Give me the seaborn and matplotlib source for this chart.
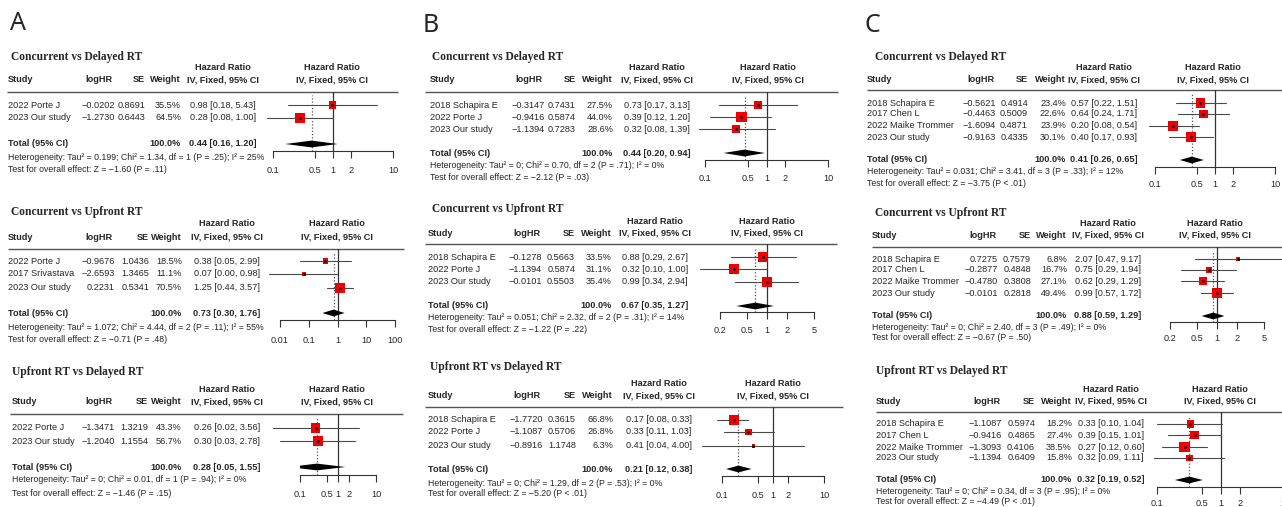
import matplotlib
matplotlib.use("Agg")
import matplotlib.pyplot as plt
from matplotlib.ticker import FixedLocator, FixedFormatter, NullLocator
import seaborn as sns

sns.set_theme(style="white")
plt.rcParams["font.family"] = ["Liberation Sans", "DejaVu Sans"]

W, H = 1282, 507

# ── Data ────────────────────────────────────────────────────────────────────
TITLES = ["Concurrent vs Delayed RT", "Concurrent vs Upfront RT", "Upfront RT vs Delayed RT"]

# A – row 1
A1_study = ["2022 Porte J", "2023 Our study"]
A1_loghr = [-0.0202, -1.2730]
A1_se = [0.8691, 0.6443]
A1_weight = [35.5, 64.5]
A1_hr = [0.98, 0.28]
A1_lo = [0.18, 0.08]
A1_hi = [5.43, 1.00]
A1_total = [0.44, 0.16, 1.20]
A1_het = "Heterogeneity: Tau² = 0.199; Chi² = 1.34, df = 1 (P = .25); I² = 25%"
A1_test = "Test for overall effect: Z = −1.60 (P = .11)"
A1_ticks = [0.1, 0.5, 1, 2, 10]

# A – row 2
A2_study = ["2022 Porte J", "2017 Srivastava", "2023 Our study"]
A2_loghr = [-0.9676, -2.6593, 0.2231]
A2_se = [1.0436, 1.3465, 0.5341]
A2_weight = [18.5, 11.1, 70.5]
A2_hr = [0.38, 0.07, 1.25]
A2_lo = [0.05, 0.004, 0.44]
A2_hi = [2.99, 0.98, 3.57]
A2_total = [0.73, 0.30, 1.76]
A2_het = "Heterogeneity: Tau² = 1.072; Chi² = 4.44, df = 2 (P = .11); I² = 55%"
A2_test = "Test for overall effect: Z = −0.71 (P = .48)"
A2_ticks = [0.01, 0.1, 1, 10, 100]

# A – row 3
A3_study = ["2022 Porte J", "2023 Our study"]
A3_loghr = [-1.3471, -1.2040]
A3_se = [1.3219, 1.1554]
A3_weight = [43.3, 56.7]
A3_hr = [0.26, 0.30]
A3_lo = [0.02, 0.03]
A3_hi = [3.56, 2.78]
A3_total = [0.28, 0.05, 1.55]
A3_het = "Heterogeneity: Tau² = 0; Chi² = 0.01, df = 1 (P = .94); I² = 0%"
A3_test = "Test for overall effect: Z = −1.46 (P = .15)"
A3_ticks = [0.1, 0.5, 1, 2, 10]

# B – row 1
B1_study = ["2018 Schapira E", "2022 Porte J", "2023 Our study"]
B1_loghr = [-0.3147, -0.9416, -1.1394]
B1_se = [0.7431, 0.5874, 0.7283]
B1_weight = [27.5, 44.0, 28.6]
B1_hr = [0.73, 0.39, 0.32]
B1_lo = [0.17, 0.12, 0.08]
B1_hi = [3.13, 1.20, 1.39]
B1_total = [0.44, 0.20, 0.94]
B1_het = "Heterogeneity: Tau² = 0; Chi² = 0.70, df = 2 (P = .71); I² = 0%"
B1_test = "Test for overall effect: Z = −2.12 (P = .03)"
B1_ticks = [0.1, 0.5, 1, 2, 10]

# B – row 2
B2_study = ["2018 Schapira E", "2022 Porte J", "2023 Our study"]
B2_loghr = [-0.1278, -1.1394, -0.0101]
B2_se = [0.5663, 0.5874, 0.5503]
B2_weight = [33.5, 31.1, 35.4]
B2_hr = [0.88, 0.32, 0.99]
B2_lo = [0.29, 0.10, 0.34]
B2_hi = [2.67, 1.00, 2.94]
B2_total = [0.67, 0.35, 1.27]
B2_het = "Heterogeneity: Tau² = 0.051; Chi² = 2.32, df = 2 (P = .31); I² = 14%"
B2_test = "Test for overall effect: Z = −1.22 (P = .22)"
B2_ticks = [0.2, 0.5, 1, 2, 5]

# B – row 3
B3_study = ["2018 Schapira E", "2022 Porte J", "2023 Our study"]
B3_loghr = [-1.7720, -1.1087, -0.8916]
B3_se = [0.3615, 0.5706, 1.1748]
B3_weight = [66.8, 26.8, 6.3]
B3_hr = [0.17, 0.33, 0.41]
B3_lo = [0.08, 0.11, 0.04]
B3_hi = [0.33, 1.03, 4.00]
B3_total = [0.21, 0.12, 0.38]
B3_het = "Heterogeneity: Tau² = 0; Chi² = 1.29, df = 2 (P = .53); I² = 0%"
B3_test = "Test for overall effect: Z = −5.20 (P < .01)"
B3_ticks = [0.1, 0.5, 1, 2, 10]

# C – row 1
C1_study = ["2018 Schapira E", "2017 Chen L", "2022 Maike Trommer", "2023 Our study"]
C1_loghr = [-0.5621, -0.4463, -1.6094, -0.9163]
C1_se = [0.4914, 0.5009, 0.4871, 0.4335]
C1_weight = [23.4, 22.6, 23.9, 30.1]
C1_hr = [0.57, 0.64, 0.20, 0.40]
C1_lo = [0.22, 0.24, 0.08, 0.17]
C1_hi = [1.51, 1.71, 0.54, 0.93]
C1_total = [0.41, 0.26, 0.65]
C1_het = "Heterogeneity: Tau² = 0.031; Chi² = 3.41, df = 3 (P = .33); I² = 12%"
C1_test = "Test for overall effect: Z = −3.75 (P < .01)"
C1_ticks = [0.1, 0.5, 1, 2, 10]

# C – row 2
C2_study = ["2018 Schapira E", "2017 Chen L", "2022 Maike Trommer", "2023 Our study"]
C2_loghr = [0.7275, -0.2877, -0.4780, -0.0101]
C2_se = [0.7579, 0.4848, 0.3808, 0.2818]
C2_weight = [6.8, 16.7, 27.1, 49.4]
C2_hr = [2.07, 0.75, 0.62, 0.99]
C2_lo = [0.47, 0.29, 0.29, 0.57]
C2_hi = [9.17, 1.94, 1.29, 1.72]
C2_total = [0.88, 0.59, 1.29]
C2_het = "Heterogeneity: Tau² = 0; Chi² = 2.40, df = 3 (P = .49); I² = 0%"
C2_test = "Test for overall effect: Z = −0.67 (P = .50)"
C2_ticks = [0.2, 0.5, 1, 2, 5]

# C – row 3
C3_study = ["2018 Schapira E", "2017 Chen L", "2022 Maike Trommer", "2023 Our study"]
C3_loghr = [-1.1087, -0.9416, -1.3093, -1.1394]
C3_se = [0.5974, 0.4865, 0.4106, 0.6409]
C3_weight = [18.2, 27.4, 38.5, 15.8]
C3_hr = [0.33, 0.39, 0.27, 0.32]
C3_lo = [0.10, 0.15, 0.12, 0.09]
C3_hi = [1.04, 1.01, 0.60, 1.11]
C3_total = [0.32, 0.19, 0.52]
C3_het = "Heterogeneity: Tau² = 0; Chi² = 0.34, df = 3 (P = .95); I² = 0%"
C3_test = "Test for overall effect: Z = −4.49 (P < .01)"
C3_ticks = [0.1, 0.5, 1, 2, 10]

# ── Layout in pixels (positions only) ───────────────────────────────────────
LAYOUT = {
    "A1": dict(tx=11, xs=8, cl=115, cs=145, cw=181, ce=223, cf=332, yt=57, yh=68, yc=80, yl=92,
               lx=(7, 398), rows=[105, 118], ytot=144, yhet=157, ytest=169, ax=(273, 393), yax=151),
    "A2": dict(tx=11, xs=8, cl=115, cs=149, cw=182, ce=227, cf=337, yt=212, yh=223, yc=237, yl=249,
               lx=(8, 404), rows=[261, 274, 288], ytot=313, yhet=327, ytest=339, ax=(280, 395), yax=320),
    "A3": dict(tx=12, xs=12, cl=115, cs=148, cw=182, ce=227, cf=337, yt=372, yh=390, yc=402, yl=414,
               lx=(10, 403), rows=[428, 441], ytot=467, yhet=480, ytest=493, ax=(300, 376), yax=475),
    "B1": dict(tx=432, xs=430, cl=545, cs=576, cw=613, ce=657, cf=768, yt=57, yh=68, yc=80, yl=92,
               lx=(425, 838), rows=[105, 117, 129], ytot=153, yhet=166, ytest=177, ax=(705, 828), yax=160),
    "B2": dict(tx=432, xs=428, cl=542, cs=575, cw=612, ce=655, cf=767, yt=209, yh=221, yc=233, yl=244,
               lx=(425, 837), rows=[257, 269, 282], ytot=306, yhet=318, ytest=329, ax=(720, 814), yax=312),
    "B3": dict(tx=430, xs=428, cl=543, cs=576, cw=613, ce=659, cf=773, yt=367, yh=383, yc=396, yl=407,
               lx=(425, 843), rows=[420, 432, 446], ytot=469, yhet=483, ytest=494, ax=(722, 824), yax=476),
    "C1": dict(tx=875, xs=867, cl=996, cs=1028, cw=1066, ce=1104, cf=1213, yt=57, yh=68, yc=80, yl=90,
               lx=(867, 1290), rows=[103, 114, 126, 137], ytot=160, yhet=172, ytest=183, ax=(1155, 1275), yax=167),
    "C2": dict(tx=875, xs=872, cl=998, cs=1031, cw=1067, ce=1108, cf=1215, yt=213, yh=223, yc=235, yl=247,
               lx=(872, 1290), rows=[259, 270, 281, 293], ytot=316, yhet=327, ytest=337, ax=(1170, 1264), yax=322),
    "C3": dict(tx=876, xs=876, cl=1002, cs=1035, cw=1072, ce=1111, cf=1220, yt=371, yh=390, yc=401, yl=412,
               lx=(876, 1290), rows=[424, 435, 447, 458], ytot=480, yhet=492, ytest=502, ax=(1157, 1285), yax=487),
}
LETTERS = {"A": (18, 24), "B": (431, 25), "C": (872, 25)}

FS = 6.6        # body text
FS_NOTE = 6.3   # heterogeneity lines
FS_TITLE = 8.3
LINE_COL = "#4a4a4a"
SQ_MAX = 55     # marker area (pt^2) for the heaviest study


def fmt_num(v, nd=4):
    return f"{v:.{nd}f}".replace("-", "−")


def fmt_tick(t):
    return f"{t:g}"


def draw_panel(fig, bg, key, title, study, loghr, se, weight, hr, lo, hi, total, het, test, ticks):
    L = LAYOUT[key]
    bg.text(L["tx"], L["yt"], title, fontfamily=["Liberation Serif", "DejaVu Serif"],
            fontweight="bold", fontsize=FS_TITLE, ha="left", va="center")

    # column headers
    bold = dict(fontsize=FS, fontweight="bold", va="center")
    bg.text(L["xs"], L["yc"], "Study", ha="left", **bold)
    bg.text(L["cl"] - 2, L["yc"], "logHR", ha="right", **bold)
    bg.text(L["cs"], L["yc"], "SE", ha="right", **bold)
    bg.text(L["cw"], L["yc"], "Weight", ha="right", **bold)
    for cx in (L["ce"], L["cf"]):
        bg.text(cx, L["yh"], "Hazard Ratio", ha="center", **bold)
        bg.text(cx, L["yc"], "IV, Fixed, 95% CI", ha="center", **bold)
    bg.plot(L["lx"], [L["yl"], L["yl"]], color="#555555", lw=1.0, solid_capstyle="butt")

    # study rows
    reg = dict(fontsize=FS, va="center")
    for y, s, lg, e, w, h, l, u in zip(L["rows"], study, loghr, se, weight, hr, lo, hi):
        bg.text(L["xs"], y, s, ha="left", **reg)
        bg.text(L["cl"], y, fmt_num(lg), ha="right", **reg)
        bg.text(L["cs"], y, fmt_num(e), ha="right", **reg)
        bg.text(L["cw"], y, f"{w:.1f}%", ha="right", **reg)
        bg.text(L["ce"], y, f"{h:.2f} [{l:.2f}, {u:.2f}]", ha="center", **reg)

    # pooled row
    th, tl, tu = total
    bg.text(L["xs"], L["ytot"], "Total (95% CI)", ha="left", **bold)
    bg.text(L["cw"], L["ytot"], "100.0%", ha="right", **bold)
    bg.text(L["ce"], L["ytot"], f"{th:.2f} [{tl:.2f}, {tu:.2f}]", ha="center", **bold)
    bg.text(L["xs"], L["yhet"], het, ha="left", va="center", fontsize=FS_NOTE)
    bg.text(L["xs"], L["ytest"], test, ha="left", va="center", fontsize=FS_NOTE)

    # forest
    x0, x1 = L["ax"]
    ax = fig.add_axes([x0 / W, 1 - L["yax"] / H, (x1 - x0) / W, (L["yax"] - L["yl"]) / H])
    ax.patch.set_alpha(0)
    ax.set_xscale("log")

    ax.axvline(1, color="#333333", lw=0.9, zorder=1)
    ax.axvline(th, ymax=0.95, color="#555555", lw=0.9, ls=(0, (1, 1.6)), zorder=1)
    for y, l, u in zip(L["rows"], lo, hi):
        ax.plot([l, u], [y, y], color=LINE_COL, lw=0.8, zorder=2, clip_on=False)
    sns.scatterplot(x=hr, y=L["rows"], size=weight, sizes=(0, SQ_MAX),
                    size_norm=(0, max(weight)), marker="s", color="#ee0000",
                    linewidth=0, legend=False, ax=ax, zorder=3, clip_on=False)
    ax.scatter(hr, L["rows"], s=1.0, color="black", zorder=4, clip_on=False)
    yt = L["ytot"]
    ax.fill([tl, th, tu, th], [yt, yt - 3.4, yt, yt + 3.4], color="black", lw=0, zorder=3)

    ax.set_xlim(ticks[0], ticks[-1])
    ax.set_ylim(L["yax"], L["yl"])
    for s in ("top", "left", "right"):
        ax.spines[s].set_visible(False)
    ax.spines["bottom"].set_color("#333333")
    ax.spines["bottom"].set_linewidth(0.8)
    ax.xaxis.set_major_locator(FixedLocator(ticks))
    ax.xaxis.set_major_formatter(FixedFormatter([fmt_tick(t) for t in ticks]))
    ax.xaxis.set_minor_locator(NullLocator())
    pad = max(L["ytest"] - L["yax"] - 10, 0) * 0.72
    ax.tick_params(axis="x", direction="out", length=5, width=0.8, color="#333333",
                   labelsize=FS, pad=pad, bottom=True)
    ax.set_yticks([])
    ax.set_xlabel("")
    ax.set_ylabel("")
    ax.grid(False)
    return ax


fig = plt.figure(figsize=(W / 100, H / 100), dpi=100, facecolor="white")
bg = fig.add_axes([0, 0, 1, 1])
bg.set_xlim(0, W)
bg.set_ylim(H, 0)
bg.axis("off")

for letter, (lx, ly) in LETTERS.items():
    bg.text(lx, ly, letter, fontsize=18, fontfamily=["Noto Sans", "DejaVu Sans"],
            ha="center", va="center")

panels = [
    ("A1", TITLES[0], A1_study, A1_loghr, A1_se, A1_weight, A1_hr, A1_lo, A1_hi, A1_total, A1_het, A1_test, A1_ticks),
    ("A2", TITLES[1], A2_study, A2_loghr, A2_se, A2_weight, A2_hr, A2_lo, A2_hi, A2_total, A2_het, A2_test, A2_ticks),
    ("A3", TITLES[2], A3_study, A3_loghr, A3_se, A3_weight, A3_hr, A3_lo, A3_hi, A3_total, A3_het, A3_test, A3_ticks),
    ("B1", TITLES[0], B1_study, B1_loghr, B1_se, B1_weight, B1_hr, B1_lo, B1_hi, B1_total, B1_het, B1_test, B1_ticks),
    ("B2", TITLES[1], B2_study, B2_loghr, B2_se, B2_weight, B2_hr, B2_lo, B2_hi, B2_total, B2_het, B2_test, B2_ticks),
    ("B3", TITLES[2], B3_study, B3_loghr, B3_se, B3_weight, B3_hr, B3_lo, B3_hi, B3_total, B3_het, B3_test, B3_ticks),
    ("C1", TITLES[0], C1_study, C1_loghr, C1_se, C1_weight, C1_hr, C1_lo, C1_hi, C1_total, C1_het, C1_test, C1_ticks),
    ("C2", TITLES[1], C2_study, C2_loghr, C2_se, C2_weight, C2_hr, C2_lo, C2_hi, C2_total, C2_het, C2_test, C2_ticks),
    ("C3", TITLES[2], C3_study, C3_loghr, C3_se, C3_weight, C3_hr, C3_lo, C3_hi, C3_total, C3_het, C3_test, C3_ticks),
]
for p in panels:
    draw_panel(fig, bg, *p)

fig.savefig("out.png", dpi=100, facecolor="white")
